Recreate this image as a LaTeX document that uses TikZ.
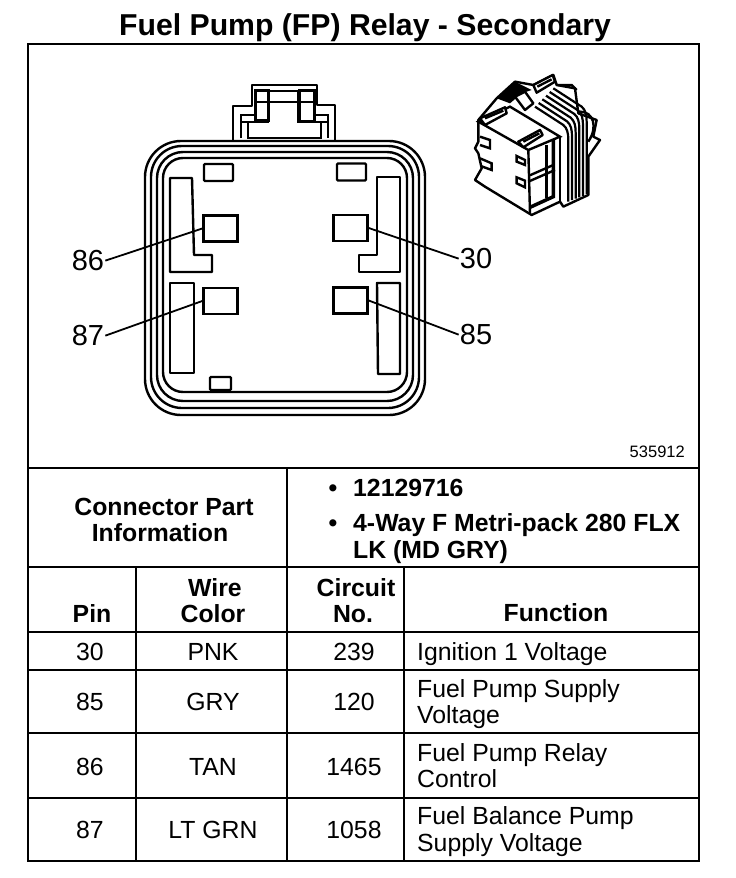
\documentclass[tikz,border=0pt]{standalone}
\usepackage{fontspec}
\setmainfont{Liberation Sans}
\tikzset{
  rule/.style={line width=2.4pt},
  ring/.style={line width=2.4pt},
  outline/.style={line width=2.4pt, fill=white, line join=round},
  pinbox/.style={draw, line width=2.4pt, minimum width=34pt, minimum height=26pt, inner sep=0pt},
  keybox/.style={draw, line width=2.4pt, inner sep=0pt, rounded corners=1pt},
  pinlabel/.style={font=\fontsize{29}{31}\selectfont, inner sep=1pt, anchor=mid, yshift=-8pt},
  heading/.style={font=\bfseries\fontsize{24.8}{27}\selectfont, inner sep=0pt, anchor=mid, yshift=-7pt},
  cell/.style={font=\fontsize{24.8}{27}\selectfont, inner sep=0pt, anchor=mid, yshift=-7pt},
  funcell/.style={cell, anchor=mid west},
  partcell/.style={heading, anchor=mid west}
}
\begin{document}
\begin{tikzpicture}[x=1pt, y=-1pt]
\useasboundingbox (0,0) rectangle (736,878);
\fill[white] (0,0) rectangle (736,878);
\node[font=\bfseries\fontsize{30.2}{32}\selectfont, inner sep=0pt, anchor=mid, yshift=-8.5pt] (title) at (365,24) {Fuel Pump (FP) Relay - Secondary};

\draw[rule] (28,44) rectangle (699,861);
\foreach \ypos in {468,567,632,670,733,798}
  \draw[rule] (28,\ypos) -- (699,\ypos);
\draw[rule] (287,468) -- (287,861);
\draw[rule] (136,567) -- (136,861);
\draw[rule] (404,567) -- (404,861);

\draw[outline] (233,142) -- (233,106) -- (252,106) -- (252,85) -- (317,85) -- (317,105) -- (335,105) -- (335,142);
\draw[ring] (241,138) -- (241,115) -- (255,115);
\draw[ring] (328,138) -- (328,115) -- (315,115);
\draw[ring] (241,122) -- (268,122) -- (268,90);
\draw[ring] (328,122) -- (298,122) -- (298,90);
\draw[ring] (248,122) -- (248,138) -- (321,138) -- (321,122);
\draw[ring] (255,102) -- (313,102);
\draw[ring] (268,91) -- (298,91);
\draw[line width=3pt] (255,90) rectangle (268,120);
\draw[line width=3pt] (299,90) rectangle (314,121);

\draw[ring, rounded corners=36pt, fill=white] (145,141) rectangle (425,415);
\draw[ring, rounded corners=31pt] (151,146) rectangle (419,408);
\draw[ring, rounded corners=26pt] (157,152) rectangle (413,401);
\draw[ring, rounded corners=20pt] (163,158) rectangle (407,392);

\draw[outline] (170,178) -- (192,178) -- (194,255) -- (212,255) -- (212,272) -- (170,272) -- cycle;
\draw[outline] (170,283) -- (194,283) -- (194,373) -- (170,373) -- cycle;
\draw[outline] (400,177) -- (377,177) -- (377,255) -- (359,255) -- (359,272) -- (400,272) -- cycle;
\draw[outline] (400,283) -- (377,283) -- (378,374) -- (400,374) -- cycle;

\node[keybox, minimum width=29pt, minimum height=17pt] (keyleft) at (218.5,172.5) {};
\node[keybox, minimum width=29pt, minimum height=17pt] (keyright) at (351.5,172) {};
\node[keybox, minimum width=21pt, minimum height=13pt] (keylow) at (220.5,383.5) {};

\node[pinbox] (pin86) at (220.5,228.5) {};
\node[pinbox] (pin30) at (350.5,228) {};
\node[pinbox] (pin87) at (220.5,301) {};
\node[pinbox] (pin85) at (350.5,300.5) {};

\node[pinlabel] (lab86) at (88,260) {86};
\node[pinlabel] (lab87) at (88,335) {87};
\node[pinlabel] (lab30) at (476,258) {30};
\node[pinlabel] (lab85) at (476,334) {85};

\draw[line width=1.8pt] (lab86.east) -- (pin86.west);
\draw[line width=1.8pt] (lab87.east) -- (pin87.west);
\draw[line width=1.8pt] (pin30.east) -- (lab30.west);
\draw[line width=1.8pt] (pin85.east) -- (lab85.west);

\begin{scope}[shift={(460,70)}, x=0.3333pt, y=-0.3333pt]
  \draw[outline] (345,55) -- (355,130) -- (410,150) -- (400,200) -- (420,210) -- (385,260) -- (385,375) -- (310,410) -- (300,395) -- (215,435) -- (75,350) -- (45,330) -- (65,295) -- (55,250) -- (45,235) -- (55,215) -- (55,150) -- (110,85) -- (165,35) -- (220,45) -- (280,15) -- (290,45) -- cycle;
  \fill (110,85) -- (165,35) -- (215,60) -- (185,70) -- (150,100) -- cycle;
  \draw[ring] (55,155) -- (205,240) -- (300,200) -- (150,110) -- cycle;
  \draw[ring] (205,240) -- (210,430);
  \draw[ring] (300,200) -- (300,395);
  \draw[ring] (205,335) -- (285,300);
  \draw[ring] (205,318) -- (280,285);
  \draw[line width=3.5pt] (210,412) -- (280,380) -- (280,210);
  \draw[ring] (260,225) -- (260,385);
  \draw[outline] (60,145) -- (135,112) -- (140,130) -- (75,165) -- cycle;
  \draw[ring] (75,145) -- (130,122);
  \draw[outline] (175,215) -- (240,180) -- (248,195) -- (190,232) -- cycle;
  \draw[ring] (190,215) -- (238,190);
  \draw[outline] (220,45) -- (278,15) -- (285,35) -- (230,68) -- cycle;
  \draw[ring] (232,50) -- (275,28);
  \draw[ring] (290,45) -- (335,45) -- (350,60);
  \draw[outline] (165,80) -- (195,65) -- (220,100) -- (195,120) -- cycle;
  \foreach \gap in {0,11,22,33,44,55}
    \draw[line width=2.2pt] (225+\gap,110-\gap) -- (310+\gap,165-\gap) .. controls (322+\gap,175-\gap) and (325+\gap,190-\gap) .. (325+\gap,210-\gap) -- (325+\gap,395-0.4*\gap);
  \draw[ring] (360,125) .. controls (400,125) and (415,170) .. (385,215);
  \draw[ring] (60,200) -- (90,210) -- (90,235) -- (60,225);
  \draw[ring] (60,265) -- (95,280) -- (95,300) -- (62,288);
  \draw[ring] (170,258) -- (195,270) -- (195,285) -- (170,275) -- cycle;
  \draw[ring] (170,322) -- (195,332) -- (195,352) -- (170,340) -- cycle;
\end{scope}

\node[font=\fontsize{16.5}{18}\selectfont, inner sep=0pt, anchor=mid east, yshift=-4pt] (partno) at (685,451) {535912};

\node[heading] (conn1) at (164,506) {Connector Part};
\node[heading] (conn2) at (160,532) {Information};
\node[heading] (bul1) at (333,487) {•};
\node[heading] (bul2) at (333,522) {•};
\node[partcell] (part1) at (353,487) {12129716};
\node[partcell] (part2) at (353,522) {4-Way F Metri-pack 280 FLX};
\node[partcell] (part3) at (353,549) {LK (MD GRY)};

\node[heading] (headpin) at (92,613) {Pin};
\node[heading] (headwire1) at (215,587) {Wire};
\node[heading] (headwire2) at (213,613) {Color};
\node[heading] (headcirc1) at (356,587) {Circuit};
\node[heading] (headcirc2) at (353,613) {No.};
\node[heading] (headfunc) at (556,612) {Function};

\foreach \ypos/\pinno/\wire/\circno in {651/30/PNK/239, 701/85/GRY/120, 766/86/TAN/1465, 829/87/LT GRN/1058} {
  \node[cell] (row\pinno pin) at (90,\ypos) {\pinno};
  \node[cell] (row\pinno wire) at (213,\ypos) {\wire};
  \node[cell] (row\pinno circ) at (354,\ypos) {\circno};
}

\node[funcell] (fun30) at (417,651) {Ignition 1 Voltage};
\node[funcell] (fun85a) at (417,688) {Fuel Pump Supply};
\node[funcell] (fun85b) at (417,714) {Voltage};
\node[funcell] (fun86a) at (417,752) {Fuel Pump Relay};
\node[funcell] (fun86b) at (417,778) {Control};
\node[funcell] (fun87a) at (417,815) {Fuel Balance Pump};
\node[funcell] (fun87b) at (417,842) {Supply Voltage};
\end{tikzpicture}
\end{document}
